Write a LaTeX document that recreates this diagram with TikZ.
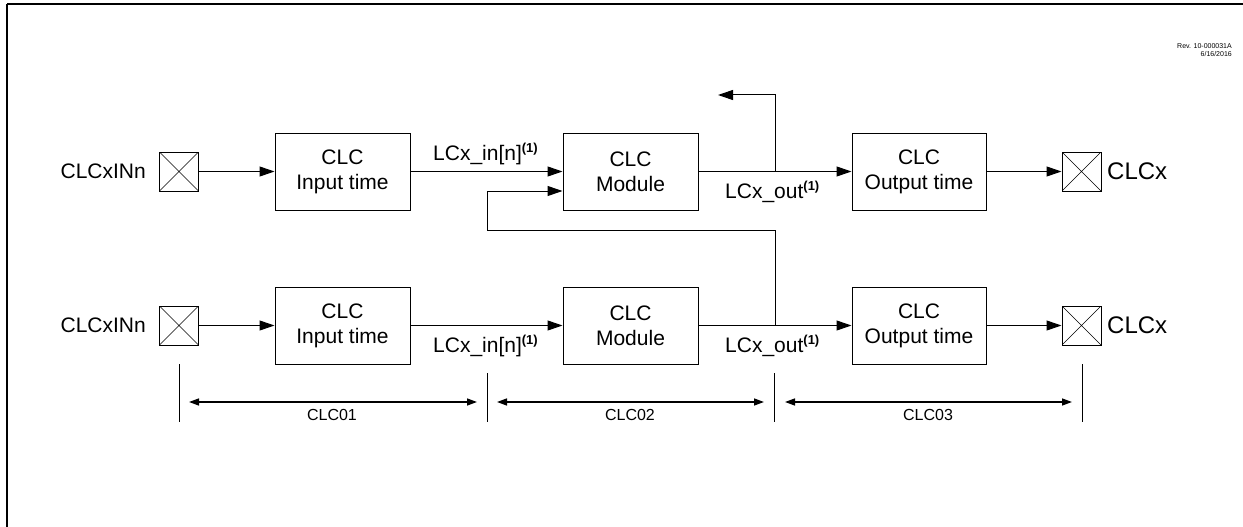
\documentclass[tikz,border=0pt]{standalone}
\usepackage{fontspec}
\setmainfont{Liberation Sans}
\usetikzlibrary{arrows.meta}
\begin{document}
\begin{tikzpicture}[x=1pt,y=-1pt,
  blk/.style={draw, line width=1pt, minimum width=135pt, minimum height=77pt, inner sep=0pt, align=center, font=\fontsize{21}{25}\selectfont},
  pinbox/.style={draw, line width=1pt, minimum width=39pt, minimum height=39pt, inner sep=0pt,
    path picture={\draw[line width=0.6pt] (path picture bounding box.north west) -- (path picture bounding box.south east)
      (path picture bounding box.north east) -- (path picture bounding box.south west);}},
  lbl/.style={inner sep=0pt, font=\fontsize{21}{25}\selectfont},
  biglbl/.style={inner sep=0pt, font=\fontsize{24}{28}\selectfont},
  sig/.style={inner sep=0pt, font=\fontsize{21}{25}\selectfont},
  conn/.style={line width=1pt, -{Triangle[length=15pt,width=10pt]}},
  wire/.style={line width=1pt},
  dim/.style={line width=1.4pt, {Triangle[length=10pt,width=7pt]}-{Triangle[length=10pt,width=7pt]}},
  tick/.style={line width=1pt},
  dimlbl/.style={inner sep=0pt, font=\fontsize{16}{19}\selectfont},
  rev/.style={inner sep=0pt, font=\fontsize{7}{8}\selectfont}
]
\newcommand{\supone}{\raisebox{8pt}{\fontsize{13}{13}\selectfont\bfseries(1)}}
\useasboundingbox (0,0) rectangle (1243,527);
% frame
\coordinate (fbl) at (7,527);
\coordinate (ftl) at (7,4);
\coordinate (ftr) at (1243,4);
\draw[line width=1.5pt] (fbl) -- (ftl);
\draw[line width=2pt] (ftl) -- (ftr);
\node[rev, anchor=base east] (rev1) at (1232,49) {Rev. 10-000031A};
\node[rev, anchor=base east] (rev2) at (1232,57) {6/16/2016};

% top row
\node[pinbox] (pA1) at (179,171.5) {};
\node[lbl, anchor=east] (tA1) at (146,171.5) {CLCxINn};
\node[blk] (inA) at (342.5,171.5) {CLC\\Input time};
\node[blk] (modA) at (630.5,171.5) {CLC\\Module};
\node[blk, minimum width=134pt] (outA) at (919,171.5) {CLC\\Output time};
\node[pinbox] (pA2) at (1081.5,171.5) {};
\node[biglbl, anchor=west] (tA2) at (1107,171.5) {CLCx};
\node[sig, anchor=base west] (sA1) at (433,160) {LCx\_in[n]\supone};
\node[sig, anchor=base west] (sA2) at (725,198) {LCx\_out\supone};

% bottom row
\node[pinbox] (pB1) at (179,325.5) {};
\node[lbl, anchor=east] (tB1) at (146,325.5) {CLCxINn};
\node[blk] (inB) at (342.5,325.5) {CLC\\Input time};
\node[blk] (modB) at (630.5,325.5) {CLC\\Module};
\node[blk, minimum width=134pt] (outB) at (919,325.5) {CLC\\Output time};
\node[pinbox] (pB2) at (1081.5,325.5) {};
\node[biglbl, anchor=west] (tB2) at (1107,325.5) {CLCx};
\node[sig, anchor=base west] (sB1) at (433,352) {LCx\_in[n]\supone};
\node[sig, anchor=base west] (sB2) at (725,352) {LCx\_out\supone};

% top connectors
\draw[conn] (pA1) -- (inA);
\draw[conn] (inA) -- (modA);
\draw[conn] (modA) -- (outA);
\draw[conn] (outA) -- (pA2);
\coordinate (tapA) at (775,171.5);
\coordinate (upA) at (718,95);
\draw[conn] (tapA) |- (upA);

% bottom connectors
\draw[conn] (pB1) -- (inB);
\draw[conn] (inB) -- (modB);
\draw[conn] (modB) -- (outB);
\draw[conn] (outB) -- (pB2);
\coordinate (tapB) at (775,325.5);
\coordinate (fbA) at (775,230);
\coordinate (fbB) at (487,230);
\coordinate (modAin2) at ([yshift=-19.5pt]modA.west);
\draw[wire] (tapB) -- (fbA) -- (fbB);
\draw[conn] (fbB) |- (modAin2);

% dimension
\coordinate (k1t) at (179,364); \coordinate (k1b) at (179,422);
\coordinate (k2t) at (487,373); \coordinate (k2b) at (487,422);
\coordinate (k3t) at (774,373); \coordinate (k3b) at (774,422);
\coordinate (k4t) at (1082,364); \coordinate (k4b) at (1082,422);
\draw[tick] (k1t) -- (k1b);
\draw[tick] (k2t) -- (k2b);
\draw[tick] (k3t) -- (k3b);
\draw[tick] (k4t) -- (k4b);
\coordinate (d1a) at (189,402); \coordinate (d1b) at (477,402);
\coordinate (d2a) at (497,402); \coordinate (d2b) at (764,402);
\coordinate (d3a) at (785,402); \coordinate (d3b) at (1072,402);
\draw[dim] (d1a) -- (d1b);
\draw[dim] (d2a) -- (d2b);
\draw[dim] (d3a) -- (d3b);
\node[dimlbl] (c1) at (332,415) {CLC01};
\node[dimlbl] (c2) at (630,415) {CLC02};
\node[dimlbl] (c3) at (928,415) {CLC03};
\end{tikzpicture}
\end{document}
